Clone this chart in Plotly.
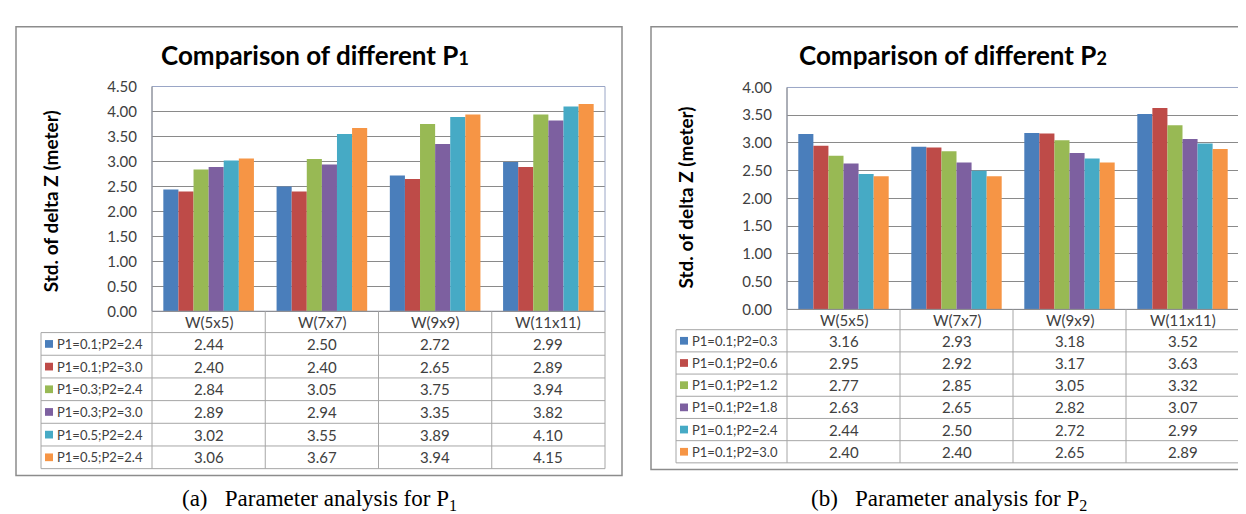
import plotly.graph_objects as go

W, H = 1246, 514

categories = ["W(5x5)", "W(7x7)", "W(9x9)", "W(11x11)"]
colors = ["#4A7EBB", "#BE4B48", "#98B954", "#7D60A0", "#46AAC5", "#F69545"]

# Left chart: comparison of different P1
left_names = ["P1=0.1;P2=2.4", "P1=0.1;P2=3.0", "P1=0.3;P2=2.4",
              "P1=0.3;P2=3.0", "P1=0.5;P2=2.4", "P1=0.5;P2=2.4"]
left_s1 = [2.44, 2.50, 2.72, 2.99]
left_s2 = [2.40, 2.40, 2.65, 2.89]
left_s3 = [2.84, 3.05, 3.75, 3.94]
left_s4 = [2.89, 2.94, 3.35, 3.82]
left_s5 = [3.02, 3.55, 3.89, 4.10]
left_s6 = [3.06, 3.67, 3.94, 4.15]
left_values = [left_s1, left_s2, left_s3, left_s4, left_s5, left_s6]

# Right chart: comparison of different P2
right_names = ["P1=0.1;P2=0.3", "P1=0.1;P2=0.6", "P1=0.1;P2=1.2",
               "P1=0.1;P2=1.8", "P1=0.1;P2=2.4", "P1=0.1;P2=3.0"]
right_s1 = [3.16, 2.93, 3.18, 3.52]
right_s2 = [2.95, 2.92, 3.17, 3.63]
right_s3 = [2.77, 2.85, 3.05, 3.32]
right_s4 = [2.63, 2.65, 2.82, 3.07]
right_s5 = [2.44, 2.50, 2.72, 2.99]
right_s6 = [2.40, 2.40, 2.65, 2.89]
right_values = [right_s1, right_s2, right_s3, right_s4, right_s5, right_s6]

FONT = "Lato"
TXT = "#404040"
GRID = "#8a8a8a"
TLINE = "#a6a6a6"


def X(px):
    return px / W


def Y(py):
    return 1 - py / H


fig = go.Figure()
shapes = []
annotations = []

panels = [
    dict(names=left_names, values=left_values, xa="x", ya="y", ymax=4.5,
         pl=144, pr=597, pt=71, pb=304, hb=326, rowh=23.5, tl=33,
         box=(8, 9, 614, 474), ytitle_x=42, ytitle_y=190, title_x=307,
         title="Comparison of different P<span style='font-size:18px'>1</span>",
         caption="(a)   Parameter analysis for P<sub>1</sub>", cap_x=311),
    dict(names=right_names, values=right_values, xa="x2", ya="y2", ymax=4.0,
         pl=779, pr=1231, pt=72, pb=302, hb=323, rowh=23.0, tl=668,
         box=(643, 9, 1252, 468), ytitle_x=677, ytitle_y=186, title_x=945,
         title="Comparison of different P<span style='font-size:18px'>2</span>",
         caption="(b)   Parameter analysis for P<sub>2</sub>", cap_x=941),
]

for i, p in enumerate(panels):
    for name, vals, col in zip(p["names"], p["values"], colors):
        fig.add_trace(go.Bar(x=categories, y=vals, name=name, marker_color=col,
                             marker_line_width=0, xaxis=p["xa"], yaxis=p["ya"],
                             showlegend=False))
    sfx = "" if i == 0 else "2"
    fig.update_layout(**{
        "xaxis" + sfx: dict(domain=[X(p["pl"]), X(p["pr"])], anchor="y" + sfx,
                            showticklabels=False, showgrid=False, zeroline=False,
                            range=[-0.5, 3.5], fixedrange=True),
        "yaxis" + sfx: dict(domain=[Y(p["pb"]), Y(p["pt"])], anchor="x" + sfx,
                            range=[0, p["ymax"]], dtick=0.5, tickformat=".2f",
                            showgrid=True, gridcolor=GRID, gridwidth=1,
                            zeroline=False, showline=False, ticks="",
                            ticklabelstandoff=14,
                            tickfont=dict(family=FONT, size=15, color=TXT)),
    })
    # panel outer box
    bx0, by0, bx1, by1 = p["box"]
    shapes.append(dict(type="rect", xref="paper", yref="paper",
                       x0=X(bx0), x1=X(bx1), y0=Y(by1), y1=Y(by0),
                       line=dict(color="#8c8c8c", width=1.5), layer="below"))
    # plot area border
    shapes.append(dict(type="rect", xref="paper", yref="paper",
                       x0=X(p["pl"]), x1=X(p["pr"]), y0=Y(p["pb"]), y1=Y(p["pt"]),
                       line=dict(color="#9aa6c6", width=1), layer="above"))
    # left axis line
    shapes.append(dict(type="line", xref="paper", yref="paper",
                       x0=X(p["pl"]), x1=X(p["pl"]), y0=Y(p["pb"]), y1=Y(p["pt"]),
                       line=dict(color="#8a8a8a", width=1)))
    # data table
    ncat = len(categories)
    colw = (p["pr"] - p["pl"]) / ncat
    nrow = len(p["names"])
    tb = p["hb"] + nrow * p["rowh"]
    shapes.append(dict(type="line", xref="paper", yref="paper",
                       x0=X(p["pl"]), x1=X(p["pr"]), y0=Y(p["pb"]), y1=Y(p["pb"]),
                       line=dict(color="#8a8a8a", width=1)))
    for k in range(ncat + 1):
        xx = p["pl"] + k * colw
        shapes.append(dict(type="line", xref="paper", yref="paper",
                           x0=X(xx), x1=X(xx), y0=Y(tb), y1=Y(p["pb"]),
                           line=dict(color=TLINE, width=1)))
    shapes.append(dict(type="line", xref="paper", yref="paper",
                       x0=X(p["tl"]), x1=X(p["tl"]), y0=Y(tb), y1=Y(p["hb"]),
                       line=dict(color=TLINE, width=1)))
    for r in range(nrow + 1):
        yy = p["hb"] + r * p["rowh"]
        shapes.append(dict(type="line", xref="paper", yref="paper",
                           x0=X(p["tl"]), x1=X(p["pr"]), y0=Y(yy), y1=Y(yy),
                           line=dict(color=TLINE, width=1)))
    for k, c in enumerate(categories):
        annotations.append(dict(x=X(p["pl"] + (k + 0.5) * colw), y=Y((p["pb"] + p["hb"]) / 2),
                                xref="paper", yref="paper", text=c, showarrow=False,
                                xanchor="center", yanchor="middle",
                                font=dict(family=FONT, size=15, color=TXT)))
    for r, (name, vals, col) in enumerate(zip(p["names"], p["values"], colors)):
        yc = p["hb"] + (r + 0.5) * p["rowh"]
        shapes.append(dict(type="rect", xref="paper", yref="paper",
                           x0=X(p["tl"] + 4), x1=X(p["tl"] + 12),
                           y0=Y(yc + 4), y1=Y(yc - 4),
                           fillcolor=col, line=dict(width=0)))
        annotations.append(dict(x=X(p["tl"] + 14), y=Y(yc), xref="paper", yref="paper",
                                text=name, showarrow=False, xanchor="left",
                                yanchor="middle",
                                font=dict(family=FONT, size=13, color=TXT)))
        for k, v in enumerate(vals):
            annotations.append(dict(x=X(p["pl"] + (k + 0.5) * colw), y=Y(yc),
                                    xref="paper", yref="paper", text=f"{v:.2f}",
                                    showarrow=False, xanchor="center", yanchor="middle",
                                    font=dict(family=FONT, size=15, color=TXT)))
    annotations.append(dict(x=X(p["title_x"]), y=Y(38), xref="paper", yref="paper",
                            text="<b>" + p["title"] + "</b>", showarrow=False,
                            xanchor="center", yanchor="middle",
                            font=dict(family=FONT, size=26, color="#000000")))
    annotations.append(dict(x=X(p["ytitle_x"]), y=Y(p["ytitle_y"]), xref="paper",
                            yref="paper", text="<b>Std. of delta Z (meter)</b>",
                            showarrow=False, textangle=-90, xanchor="center",
                            yanchor="middle",
                            font=dict(family=FONT, size=19, color="#000000")))
    annotations.append(dict(x=X(p["cap_x"]), y=Y(500), xref="paper", yref="paper",
                            text=p["caption"], showarrow=False, xanchor="center",
                            yanchor="middle",
                            font=dict(family="Liberation Serif", size=23, color="#000000")))

fig.update_layout(width=W, height=H, margin=dict(l=0, r=0, t=0, b=0),
                  paper_bgcolor="white", plot_bgcolor="white",
                  barmode="group", bargap=0.2, bargroupgap=0.0,
                  shapes=shapes, annotations=annotations)

fig.write_html("out.html")
